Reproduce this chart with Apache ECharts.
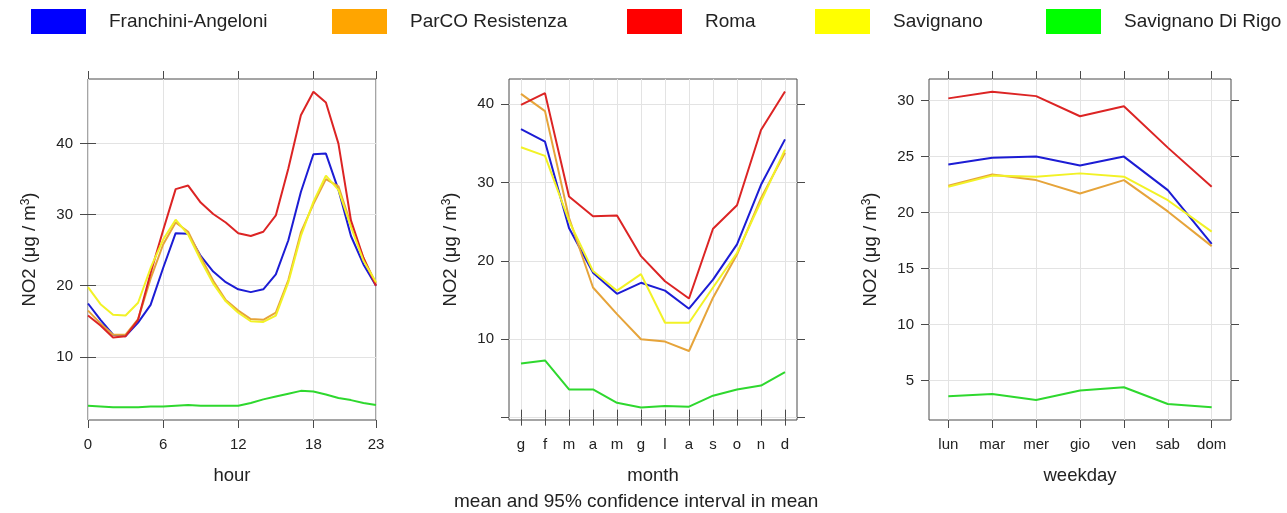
<!DOCTYPE html>
<html>
<head>
<meta charset="utf-8">
<script src="https://cdn.jsdelivr.net/npm/echarts@6/dist/echarts.min.js"></script>
<style>
  html, body { margin: 0; padding: 0; background: #ffffff; }
  #chart { width: 1287px; height: 513px; }
</style>
</head>
<body>
<div id="chart"></div>
<script>
// NO2 variation by station: hour of day, month, weekday
const stations = ['Franchini-Angeloni', 'ParCO Resistenza', 'Roma', 'Savignano', 'Savignano Di Rigo'];

const hourLabels = [0, 1, 2, 3, 4, 5, 6, 7, 8, 9, 10, 11, 12, 13, 14, 15, 16, 17, 18, 19, 20, 21, 22, 23];
const hourTicks = [0, 6, 12, 18, 23];
const hourFranchini = [17.5, 15.2, 13.1, 12.9, 14.8, 17.3, 22.5, 27.4, 27.3, 24.2, 22.0, 20.5, 19.5, 19.1, 19.5, 21.6, 26.4, 33.2, 38.5, 38.6, 33.5, 27.0, 23.0, 20.0];
const hourParco = [16.5, 14.7, 13.1, 13.1, 15.3, 21.0, 25.8, 28.9, 27.6, 24.0, 20.7, 18.0, 16.5, 15.3, 15.2, 16.2, 20.8, 27.5, 31.5, 35.0, 34.0, 28.6, 23.9, 20.3];
const hourRoma = [15.8, 14.4, 12.7, 12.9, 15.2, 21.8, 27.8, 33.6, 34.1, 31.7, 30.1, 28.9, 27.4, 27.0, 27.6, 29.9, 36.5, 44.0, 47.3, 45.8, 40.0, 29.2, 23.9, 20.0];
const hourSavignano = [19.8, 17.4, 15.9, 15.8, 17.6, 22.5, 26.5, 29.3, 27.2, 23.6, 20.3, 17.8, 16.2, 15.0, 14.9, 15.8, 20.5, 27.0, 31.8, 35.5, 33.5, 28.3, 23.5, 20.5];
const hourDiRigo = [3.1, 3.0, 2.9, 2.9, 2.9, 3.0, 3.0, 3.1, 3.2, 3.1, 3.1, 3.1, 3.1, 3.5, 4.0, 4.4, 4.8, 5.2, 5.1, 4.7, 4.2, 3.9, 3.5, 3.2];
const hourYTicks = [10, 20, 30, 40];

const monthLabels = ['g', 'f', 'm', 'a', 'm', 'g', 'l', 'a', 's', 'o', 'n', 'd'];
const monthFranchini = [36.8, 35.2, 24.2, 18.5, 15.8, 17.2, 16.2, 13.9, 17.6, 22.1, 29.7, 35.5];
const monthParco = [41.3, 39.1, 25.5, 16.6, 13.2, 10.0, 9.7, 8.5, 15.3, 20.8, 28.0, 33.8];
const monthRoma = [39.9, 41.4, 28.2, 25.7, 25.8, 20.6, 17.4, 15.2, 24.1, 27.1, 36.7, 41.6];
const monthSavignano = [34.5, 33.4, 25.1, 18.7, 16.2, 18.3, 12.1, 12.1, 16.6, 21.0, 27.6, 34.2];
const monthDiRigo = [6.9, 7.3, 3.6, 3.6, 1.9, 1.3, 1.5, 1.4, 2.8, 3.6, 4.1, 5.8];
const monthYTicks = [0, 10, 20, 30, 40];
const monthYLabels = [10, 20, 30, 40];

const dayLabels = ['lun', 'mar', 'mer', 'gio', 'ven', 'sab', 'dom'];
const dayFranchini = [24.3, 24.9, 25.0, 24.2, 25.0, 22.0, 17.2];
const dayParco = [22.4, 23.4, 22.9, 21.7, 22.9, 20.1, 17.0];
const dayRoma = [30.2, 30.8, 30.4, 28.6, 29.5, 25.8, 22.3];
const daySavignano = [22.3, 23.3, 23.2, 23.5, 23.2, 21.1, 18.3];
const dayDiRigo = [3.6, 3.8, 3.25, 4.1, 4.4, 2.9, 2.6];
const dayYTicks = [5, 10, 15, 20, 25, 30];

const yTitle = 'NO2 (μg / m{sup|3})';
const footNote = 'mean and 95% confidence interval in mean';

// ---- styling ----
const FONT = '"Liberation Sans", Arial, Helvetica, sans-serif';
const keyColors = ['#0000ff', '#ffa500', '#ff0000', '#ffff00', '#00ff00'];
const lineColors = ['#1c1cd4', '#e6a43a', '#dc2424', '#f2f226', '#2ed82e'];
const boxColor = '#4a4a4a';
const gridLineColor = '#e3e3e3';
const textColor = '#222222';

const panels = [
  { grid: { left: 88, top: 79, width: 288, height: 341 }, min: 0, max: 23, yMin: 1.1, yMax: 49.1,
    xTicks: hourTicks, xLabels: hourTicks, fmt: v => String(v), yTicks: hourYTicks, yLabels: hourYTicks,
    name: 'hour', x: hourLabels,
    data: [hourFranchini, hourParco, hourRoma, hourSavignano, hourDiRigo] },
  { grid: { left: 509, top: 79, width: 288, height: 341 }, min: 0.5, max: 12.5, yMin: -0.3, yMax: 43.2,
    xTicks: monthLabels.map((_, i) => i + 1), xLabels: monthLabels.map((_, i) => i + 1),
    fmt: v => monthLabels[Math.round(v) - 1], yTicks: monthYTicks, yLabels: monthYLabels,
    name: 'month', x: monthLabels.map((_, i) => i + 1),
    data: [monthFranchini, monthParco, monthRoma, monthSavignano, monthDiRigo] },
  { grid: { left: 929, top: 79, width: 302, height: 341 }, min: 0.56, max: 7.44, yMin: 1.47, yMax: 31.93,
    xTicks: dayLabels.map((_, i) => i + 1), xLabels: dayLabels.map((_, i) => i + 1),
    fmt: v => dayLabels[Math.round(v) - 1], yTicks: dayYTicks, yLabels: dayYTicks,
    name: 'weekday', x: dayLabels.map((_, i) => i + 1),
    data: [dayFranchini, dayParco, dayRoma, daySavignano, dayDiRigo] }
];

const tickStyle = { show: true, length: 8, lineStyle: { color: boxColor, width: 1 } };
const grids = [], xAxes = [], yAxes = [], series = [];

panels.forEach((p, k) => {
  grids.push(Object.assign({ show: true, borderColor: boxColor, borderWidth: 1, backgroundColor: 'transparent' }, p.grid));
  // bottom axis: labels, ticks, title, vertical reference lines
  xAxes.push({
    type: 'value', gridIndex: k, position: 'bottom', min: p.min, max: p.max,
    axisLine: { show: false },
    axisTick: Object.assign({ customValues: p.xTicks }, tickStyle),
    axisLabel: { customValues: p.xLabels, formatter: p.fmt, margin: 17, fontSize: 15, color: textColor, fontFamily: FONT },
    splitLine: { show: true, lineStyle: { color: gridLineColor, width: 1 } },
    name: p.name, nameLocation: 'middle', nameGap: 46,
    nameTextStyle: { fontSize: 18.5, color: textColor, fontFamily: FONT }
  });
  // top axis: ticks only
  xAxes.push({
    type: 'value', gridIndex: k, position: 'top', min: p.min, max: p.max,
    axisLine: { show: false },
    axisTick: Object.assign({ customValues: p.xTicks }, tickStyle),
    axisLabel: { show: false }, splitLine: { show: false }
  });
  // left axis: labels, ticks, title, horizontal reference lines
  yAxes.push({
    type: 'value', gridIndex: k, position: 'left', min: p.yMin, max: p.yMax,
    axisLine: { show: false },
    axisTick: Object.assign({ customValues: p.yTicks }, tickStyle),
    axisLabel: { customValues: p.yLabels, margin: 15, fontSize: 15, color: textColor, fontFamily: FONT },
    splitLine: { show: true, lineStyle: { color: gridLineColor, width: 1 } },
    name: yTitle, nameLocation: 'middle', nameGap: 49, nameRotate: 90,
    nameTextStyle: {
      fontSize: 18.5, color: textColor, fontFamily: FONT,
      rich: {
        sup: { fontSize: 12, lineHeight: 12, verticalAlign: 'top', color: textColor, fontFamily: FONT }
      }
    }
  });
  // right axis: ticks only
  yAxes.push({
    type: 'value', gridIndex: k, position: 'right', min: p.yMin, max: p.yMax,
    axisLine: { show: false },
    axisTick: Object.assign({ customValues: p.yTicks }, tickStyle),
    axisLabel: { show: false }, splitLine: { show: false }
  });
  p.data.forEach((vals, s) => {
    series.push({
      type: 'line', name: stations[s],
      xAxisIndex: k * 2, yAxisIndex: k * 2,
      data: vals.map((v, i) => [p.x[i], v]),
      showSymbol: false, symbol: 'none', smooth: false, animation: false,
      lineStyle: { color: lineColors[s], width: 2 },
      itemStyle: { color: lineColors[s] }
    });
  });
});

// key across the top: one entry per station
const keyLeft = [31, 332, 627, 815, 1046];
const legends = stations.map((name, s) => ({
  left: keyLeft[s], top: 9, padding: 0, icon: 'rect',
  itemWidth: 55, itemHeight: 25, selectedMode: false,
  data: [{ name: name, itemStyle: { color: keyColors[s] } }],
  textStyle: { fontSize: 19, color: textColor, fontFamily: FONT, padding: [0, 0, 0, 18] }
}));

const chart = echarts.init(document.getElementById('chart'), null, { renderer: 'canvas' });
chart.setOption({
  backgroundColor: '#ffffff',
  animation: false,
  legend: legends,
  grid: grids,
  xAxis: xAxes,
  yAxis: yAxes,
  series: series,
  graphic: [{
    type: 'text', left: 454, top: 492,
    style: { text: footNote, fontSize: 19, fill: textColor, fontFamily: FONT }
  }]
});
</script>
</body>
</html>
